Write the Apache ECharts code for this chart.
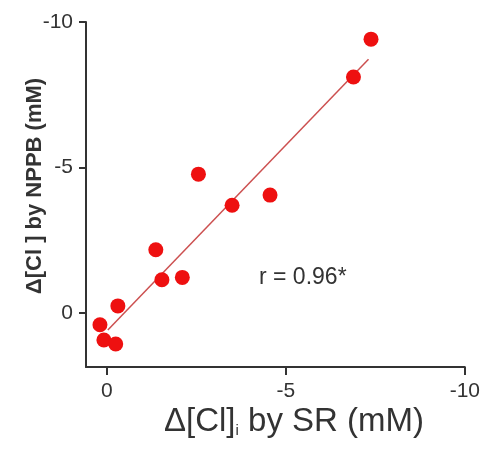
<!DOCTYPE html>
<html>
<head>
<meta charset="utf-8">
<script src="https://cdn.jsdelivr.net/npm/echarts@6/dist/echarts.min.js"></script>
<style>
  html, body { margin: 0; padding: 0; background: #fff; }
  #chart { width: 483px; height: 452px; }
</style>
</head>
<body>
<div id="chart"></div>
<script>
// Change in intracellular Cl- measured by SR vs. by NPPB (mM)
const srValues   = [-7.38, -6.89, -2.56, -4.56, -3.50, -1.37, -1.54, -2.11, -0.31, 0.19, 0.08, -0.25];
const nppbValues = [-9.41, -8.11, -4.77, -4.05, -3.70, -2.17, -1.14, -1.22, -0.24, 0.41, 0.93, 1.07];

// Regression line end points
const fitX = [-0.03, -7.31];
const fitY = [0.59, -8.72];

const tickValues = [0, -5, -10];
const corrLabel = 'r = 0.96*';

const points = srValues.map((x, i) => [x, nppbValues[i]]);
const fitLine = fitX.map((x, i) => [x, fitY[i]]);

const axisColor = '#333';
const font = '"Liberation Sans", Arial, sans-serif';

const chart = echarts.init(document.getElementById('chart'), null, { renderer: 'canvas' });

chart.setOption({
  animation: false,
  backgroundColor: '#fff',
  grid: { left: 86, right: 15, top: 22, bottom: 85, containLabel: false },
  xAxis: {
    type: 'value',
    inverse: true,
    min: -10,
    max: 0.58,
    splitLine: { show: false },
    axisLine: { show: true, onZero: false, lineStyle: { color: axisColor, width: 2 } },
    axisTick: { show: true, length: 8, lineStyle: { color: axisColor, width: 2 }, customValues: tickValues },
    axisLabel: {
      customValues: tickValues,
      margin: 14,
      color: '#333',
      fontSize: 21,
      fontFamily: font,
      formatter: v => String(v)
    }
  },
  yAxis: {
    type: 'value',
    inverse: true,
    min: -10,
    max: 1.86,
    splitLine: { show: false },
    axisLine: { show: true, onZero: false, lineStyle: { color: axisColor, width: 2 } },
    axisTick: { show: true, length: 7, lineStyle: { color: axisColor, width: 2 }, customValues: tickValues },
    axisLabel: {
      customValues: tickValues,
      margin: 13,
      color: '#333',
      fontSize: 21,
      fontFamily: font,
      formatter: v => String(v)
    }
  },
  graphic: [
    {
      type: 'text',
      left: 164,
      top: 405,
      style: {
        text: 'Δ[Cl]{sub|i} by SR (mM)',
        fill: '#333',
        font: '33px ' + font,
        rich: {
          sub: { fontSize: 15, fontFamily: font, fill: '#333', verticalAlign: 'bottom', padding: [15, 0, 0, 0] }
        }
      }
    },
    {
      type: 'text',
      x: 35,
      y: 186,
      rotation: Math.PI / 2,
      style: {
        text: 'Δ[Cl ] by NPPB (mM)',
        fill: '#333',
        font: 'bold 22px ' + font,
        align: 'center',
        verticalAlign: 'middle'
      }
    },
    {
      type: 'text',
      left: 259,
      top: 266,
      style: {
        text: corrLabel,
        fill: '#333',
        font: '23px ' + font
      }
    }
  ],
  series: [
    {
      type: 'line',
      data: fitLine,
      symbol: 'none',
      silent: true,
      lineStyle: { color: '#cc5050', width: 1.5 },
      z: 2
    },
    {
      type: 'scatter',
      data: points,
      symbol: 'circle',
      symbolSize: 15,
      itemStyle: { color: '#ee1010', opacity: 1 },
      z: 3
    }
  ]
});
</script>
</body>
</html>
